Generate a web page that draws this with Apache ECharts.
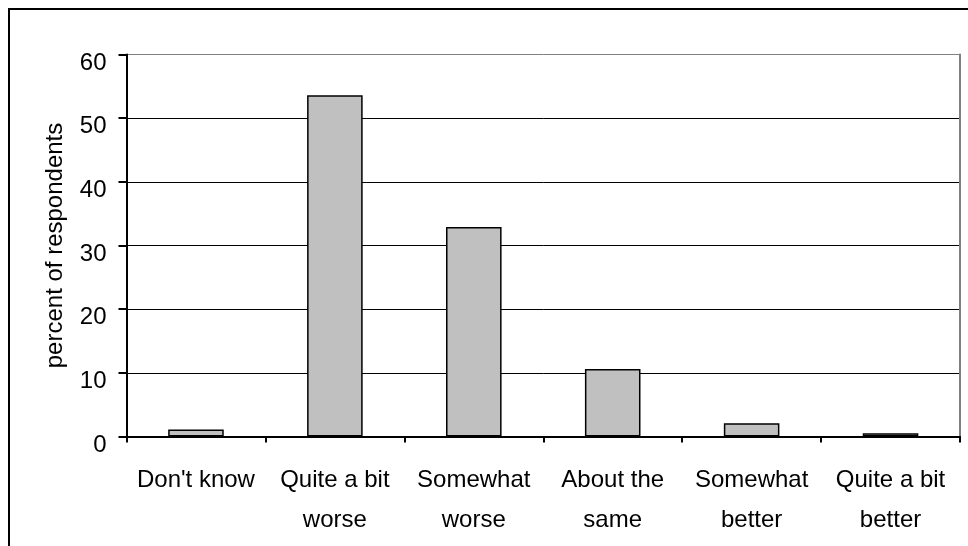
<!DOCTYPE html>
<html>
<head>
<meta charset="utf-8">
<script src="https://cdn.jsdelivr.net/npm/echarts@6/dist/echarts.min.js"></script>
<style>
html,body{margin:0;padding:0;background:#fff;}
#chart{width:968px;height:546px;}
</style>
</head>
<body>
<div id="chart"></div>
<script>
var categories = ["Don't know", "Quite a bit\nworse", "Somewhat\nworse", "About the\nsame", "Somewhat\nbetter", "Quite a bit\nbetter"];
var values = [1.1, 53.6, 32.9, 10.6, 2.1, 0.5];
var yTicks = [0, 10, 20, 30, 40, 50, 60];
var yAxisName = "percent of respondents";

var FONT = "'Liberation Sans', Arial, sans-serif";
var chart = echarts.init(document.getElementById('chart'));
chart.setOption({
  animation: false,
  backgroundColor: '#fff',
  textStyle: { fontFamily: FONT, color: '#000' },
  grid: { left: 126.5, right: 8, top: 54.5, bottom: 109.5, containLabel: false },
  graphic: [{
    type: 'rect', silent: true,
    shape: { x: 9, y: 9, width: 1000, height: 600 },
    style: { fill: 'none', stroke: '#000', lineWidth: 2 }
  }],
  xAxis: {
    type: 'category',
    data: categories,
    boundaryGap: true,
    axisLine: { show: true, lineStyle: { color: '#000', width: 2 } },
    axisTick: { show: true, length: 6, lineStyle: { color: '#000', width: 2 } },
    axisLabel: { color: '#000', fontFamily: FONT, fontSize: 24, lineHeight: 40, margin: 24, interval: 0 },
    splitLine: { show: false }
  },
  yAxis: [{
    type: 'value',
    min: yTicks[0], max: yTicks[yTicks.length - 1], interval: 10,
    name: yAxisName,
    nameLocation: 'middle',
    nameGap: 59,
    nameRotate: 90,
    nameTextStyle: { color: '#000', fontFamily: FONT, fontSize: 24 },
    axisLine: { show: true, lineStyle: { color: '#000', width: 2 } },
    axisTick: { show: true, length: 8, lineStyle: { color: '#000', width: 2 } },
    axisLabel: {
      color: '#000', fontFamily: FONT, fontSize: 24, margin: 20,
      formatter: '{v|{value}}',
      rich: { v: { fontFamily: FONT, fontSize: 24, color: '#000', padding: [17, 0, 0, 0] } }
    },
    splitLine: { show: true, lineStyle: { color: ['#000', '#000', '#000', '#000', '#000', '#000', '#808080'], width: 1 } }
  }, {
    type: 'value',
    position: 'right',
    min: yTicks[0], max: yTicks[yTicks.length - 1], interval: 10,
    axisLine: { show: true, lineStyle: { color: '#808080', width: 2 } },
    axisTick: { show: false },
    axisLabel: { show: false },
    splitLine: { show: false }
  }],
  series: [{
    type: 'bar',
    data: values,
    barWidth: '40%',
    itemStyle: { color: '#c0c0c0', borderColor: '#000', borderWidth: 1.5 }
  }]
});
</script>
</body>
</html>
